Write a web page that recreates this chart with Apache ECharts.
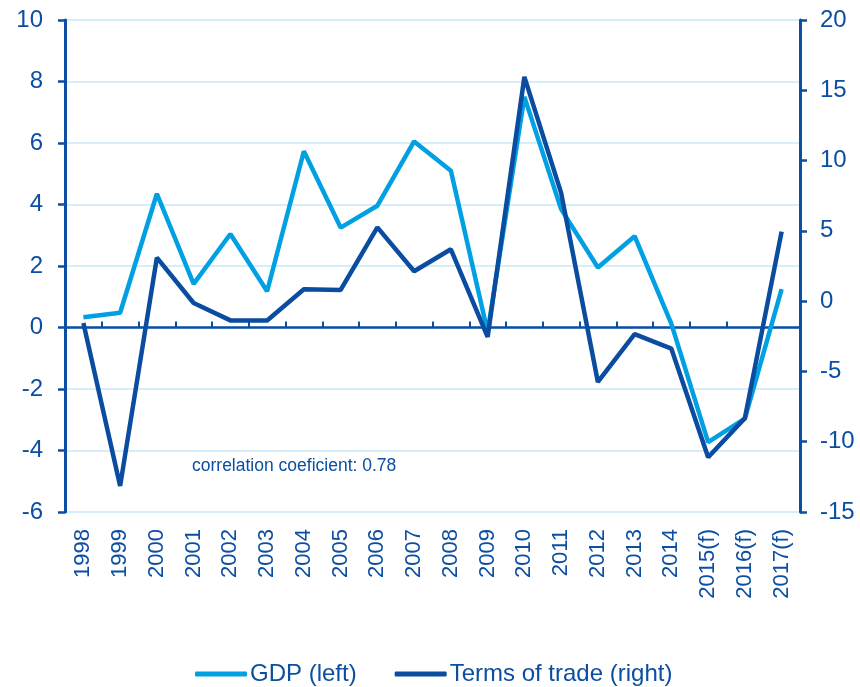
<!DOCTYPE html>
<html>
<head>
<meta charset="utf-8">
<script src="https://cdn.jsdelivr.net/npm/echarts@6/dist/echarts.min.js"></script>
<style>
  html, body { margin: 0; padding: 0; background: #fff; }
  #chart { width: 860px; height: 687px; }
</style>
</head>
<body>
<div id="chart"></div>
<script>
// categories and values
var years = ['1998', '1999', '2000', '2001', '2002', '2003', '2004', '2005', '2006', '2007',
  '2008', '2009', '2010', '2011', '2012', '2013', '2014', '2015(f)', '2016(f)', '2017(f)']
var gdp = [0.33, 0.48, 4.35, 1.42, 3.04, 1.18, 5.73, 3.25, 3.96, 6.05,
  5.1, -0.15, 7.5, 3.85, 1.95, 2.97, 0.12, -3.73, -2.96, 1.25]
var termsOfTrade = [-1.55, -13.15, 3.1, -0.13, -1.37, -1.38, 0.84, 0.8, 5.25, 2.13,
  3.69, -2.55, 15.95, 7.7, -5.75, -2.35, -3.38, -11.1, -8.32, 4.95]
var leftTicks = { min: -6, max: 10, interval: 2 }
var rightTicks = { min: -15, max: 20, interval: 5 }

var axisBlue = '#0b4ea2'
var gdpBlue = '#00a0e3'
var totBlue = '#0a4c9f'
var font = 'Liberation Sans, Arial, sans-serif'

var chart = echarts.init(document.getElementById('chart'))
var option = {
  animation: false,
  grid: { left: 65, right: 60, top: 20, bottom: 175, containLabel: false },
  legend: {
    left: 190,
    bottom: -4,
    itemWidth: 52,
    itemHeight: 5,
    itemGap: 38,
    icon: 'roundRect',
    textStyle: { color: axisBlue, fontSize: 24, fontFamily: font, padding: [0, 0, 0, -2] },
    data: ['GDP (left)', 'Terms of trade (right)']
  },
  graphic: [{
    type: 'text',
    left: 192,
    top: 457,
    style: { text: 'correlation coeficient: 0.78', fill: axisBlue, fontSize: 17.5, fontFamily: font }
  }],
  xAxis: [{
    // labels at the bottom
    type: 'category',
    data: years,
    position: 'bottom',
    axisLine: { show: false, onZero: false },
    axisTick: { show: false },
    splitLine: { show: false },
    axisLabel: { rotate: 90, interval: 0, margin: 17, color: axisBlue, fontSize: 22, fontFamily: font }
  }, {
    // zero line with small ticks
    type: 'category',
    data: years,
    position: 'bottom',
    axisLine: { show: true, onZero: true, onZeroAxisIndex: 0, lineStyle: { color: axisBlue, width: 2.5 } },
    axisTick: { show: true, inside: true, length: 6, interval: 0, lineStyle: { color: axisBlue, width: 2 } },
    axisLabel: { show: false },
    splitLine: { show: false }
  }],
  yAxis: [{
    type: 'value',
    position: 'left',
    min: leftTicks.min,
    max: leftTicks.max,
    interval: leftTicks.interval,
    axisLine: { show: true, lineStyle: { color: axisBlue, width: 3 } },
    axisTick: { show: true, length: 7, lineStyle: { color: axisBlue, width: 2.5 } },
    axisLabel: { margin: 22, color: axisBlue, fontSize: 24, fontFamily: font },
    splitLine: { show: true, lineStyle: { color: '#c9e8f7', width: 1.5 } }
  }, {
    type: 'value',
    position: 'right',
    min: rightTicks.min,
    max: rightTicks.max,
    interval: rightTicks.interval,
    axisLine: { show: true, lineStyle: { color: axisBlue, width: 3 } },
    axisTick: { show: true, length: 7, lineStyle: { color: axisBlue, width: 2.5 } },
    axisLabel: { margin: 20, color: axisBlue, fontSize: 24, fontFamily: font },
    splitLine: { show: false }
  }],
  series: [{
    name: 'GDP (left)',
    type: 'line',
    xAxisIndex: 0,
    yAxisIndex: 0,
    data: gdp,
    symbol: 'none',
    itemStyle: { color: gdpBlue },
    lineStyle: { color: gdpBlue, width: 4.5 },
    z: 3
  }, {
    name: 'Terms of trade (right)',
    type: 'line',
    xAxisIndex: 0,
    yAxisIndex: 1,
    data: termsOfTrade,
    symbol: 'none',
    itemStyle: { color: totBlue },
    lineStyle: { color: totBlue, width: 4.5 },
    z: 4
  }]
}
chart.setOption(option)
</script>
</body>
</html>
